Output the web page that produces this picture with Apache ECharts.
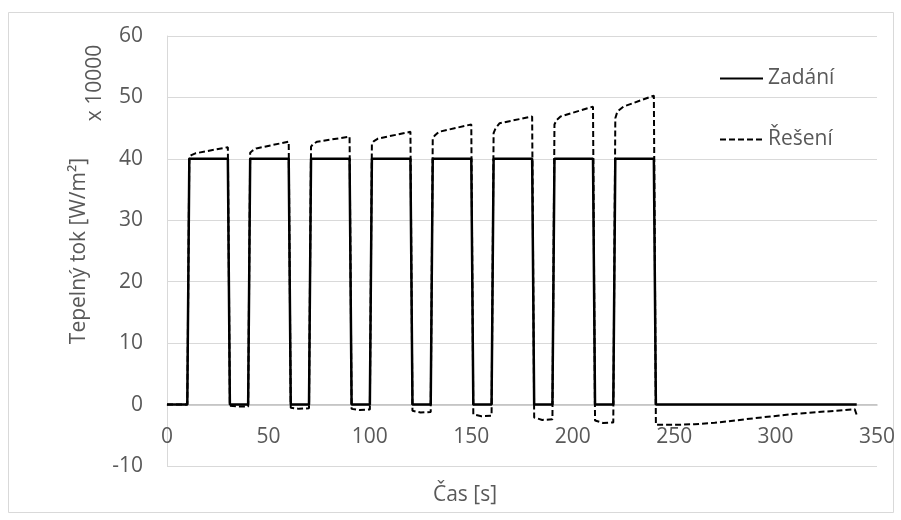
<!DOCTYPE html>
<html>
<head>
<meta charset="utf-8">
<script src="https://cdn.jsdelivr.net/npm/echarts@6/dist/echarts.min.js"></script>
<style>
  html, body { margin: 0; padding: 0; background: #ffffff; }
  #chart { width: 901px; height: 520px; }
</style>
</head>
<body>
<div id="chart"></div>
<script>
// Prescribed heat flux (Zadání), units of 10 000 W/m²
const zadaniT = [0, 10, 11, 30, 31, 40, 41, 60, 61, 70, 71, 90, 91, 100, 101, 120, 121, 130,
                 131, 150, 151, 160, 161, 180, 181, 190, 191, 210, 211, 220, 221, 240, 241, 340];
const zadaniV = [0, 0, 40, 40, 0, 0, 40, 40, 0, 0, 40, 40, 0, 0, 40, 40, 0, 0,
                 40, 40, 0, 0, 40, 40, 0, 0, 40, 40, 0, 0, 40, 40, 0, 0];

// Reconstructed heat flux (Řešení)
const reseniT = [0, 10,
  11, 12, 14, 30,   31, 35, 40,
  41, 42, 44, 60,   61, 65, 70,
  71, 72, 74, 90,   91, 95, 100,
  101, 102, 104, 120,   121, 125, 130,
  131, 132, 134, 150,   151, 155, 160,
  161, 162, 164, 180,   181, 185, 190,
  191, 192, 194, 210,   211, 215, 220,
  221, 222, 225, 240,
  241, 250, 260, 270, 280, 290, 300, 310, 320, 330, 339, 340];
const reseniV = [0, 0,
  40.4, 40.6, 40.9, 41.9,   -0.2, -0.3, -0.3,
  41.0, 41.3, 41.7, 42.8,   -0.5, -0.7, -0.6,
  42.0, 42.4, 42.8, 43.6,   -0.7, -0.9, -0.8,
  42.5, 42.9, 43.3, 44.4,   -1.0, -1.3, -1.2,
  43.3, 43.8, 44.4, 45.6,   -1.6, -1.9, -1.8,
  44.2, 45.0, 45.8, 46.9,   -2.1, -2.5, -2.4,
  45.6, 46.3, 46.9, 48.5,   -2.6, -3.0, -2.9,
  46.6, 47.7, 48.5, 50.3,
  -3.3, -3.3, -3.2, -2.95, -2.6, -2.2, -1.85, -1.5, -1.25, -1.0, -0.75, -1.7];

const xTicks = { min: 0, max: 350, step: 50 };
const yTicks = { min: -10, max: 60, step: 10 };

const FONT = 'Open Sans';
const TXT = '#595959';
const GRID = '#d9d9d9';

const GRID_TOP = 36, GRID_BOTTOM = 54, CHART_H = 520;
// The time axis crosses the value axis at zero: shift it up from the plot bottom.
const plotH = CHART_H - GRID_TOP - GRID_BOTTOM;
const zeroShift = plotH * (0 - yTicks.min) / (yTicks.max - yTicks.min);

const pairs = (ts, vs) => ts.map((t, i) => [t, vs[i]]);

const legendCommon = {
  orient: 'vertical', left: 719, padding: 0,
  itemWidth: 43, itemHeight: 10, itemGap: 0,
  itemStyle: { opacity: 0 },
  textStyle: { fontFamily: FONT, fontSize: 21, color: TXT }
};

const chart = echarts.init(document.getElementById('chart'), null, { renderer: 'canvas' });
chart.setOption({
  animation: false,
  backgroundColor: '#ffffff',
  textStyle: { fontFamily: FONT, color: TXT },
  grid: { left: 167, top: GRID_TOP, right: 24, bottom: GRID_BOTTOM, containLabel: false },
  xAxis: {
    type: 'value',
    min: xTicks.min, max: xTicks.max, interval: xTicks.step,
    offset: -zeroShift,
    axisLine: { show: true, onZero: false, lineStyle: { color: '#bfbfbf', width: 1.5 } },
    axisTick: { show: false },
    axisLabel: { fontFamily: FONT, fontSize: 21, color: TXT, margin: 22 },
    splitLine: { show: false }
  },
  yAxis: {
    type: 'value',
    min: yTicks.min, max: yTicks.max, interval: yTicks.step,
    axisLine: { show: true, lineStyle: { color: GRID, width: 1 } },
    axisTick: { show: false },
    axisLabel: { fontFamily: FONT, fontSize: 21, color: TXT, margin: 24 },
    splitLine: { show: true, lineStyle: { color: GRID, width: 1 } },
    name: 'Tepelný tok [W/m²]',
    nameLocation: 'middle',
    nameGap: 77,
    nameTextStyle: { fontFamily: FONT, fontSize: 21, color: TXT }
  },
  legend: [
    Object.assign({ data: ['Zadání'], top: 68 }, legendCommon),
    Object.assign({ data: ['Řešení'], top: 129 }, legendCommon)
  ],
  graphic: [
    {
      type: 'rect', silent: true, z: -10,
      shape: { x: 8.5, y: 12.5, width: 885, height: 500 },
      style: { fill: 'none', stroke: GRID, lineWidth: 1 }
    },
    {
      type: 'text', silent: true,
      x: 95, y: 83, rotation: Math.PI / 2,
      style: { text: 'x 10000', fontFamily: FONT, fontSize: 21, fill: TXT,
               align: 'center', verticalAlign: 'middle' }
    },
    {
      type: 'text', silent: true,
      x: 465, y: 495,
      style: { text: 'Čas [s]', fontFamily: FONT, fontSize: 21, fill: TXT,
               align: 'center', verticalAlign: 'middle' }
    }
  ],
  series: [
    {
      name: 'Zadání', type: 'line', symbol: 'none', z: 3,
      data: pairs(zadaniT, zadaniV),
      lineStyle: { color: '#000000', width: 2.5, type: 'solid' },
      itemStyle: { color: '#000000' }
    },
    {
      name: 'Řešení', type: 'line', symbol: 'none', z: 2,
      data: pairs(reseniT, reseniV),
      lineStyle: { color: '#000000', width: 2, type: [6, 3] },
      itemStyle: { color: '#000000' }
    }
  ]
});
</script>
</body>
</html>
